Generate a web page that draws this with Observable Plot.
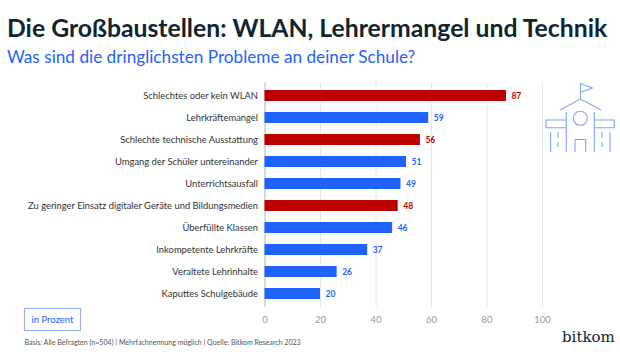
<!DOCTYPE html>
<html lang="de">
<head>
<meta charset="utf-8">
<script src="https://cdn.jsdelivr.net/npm/d3@7"></script>
<script src="https://cdn.jsdelivr.net/npm/@observablehq/plot@0.6"></script>
<style>
html,body{margin:0;padding:0;background:#fff;width:620px;height:354px;overflow:hidden}
#wrap{position:relative;width:620px;height:354px;font-family:Lato,sans-serif}
#wrap>div{position:absolute;white-space:nowrap}
#title{left:7px;top:12px;font-size:24.75px;font-weight:700;color:#10252e;line-height:32px}
#sub{left:7px;top:45px;font-size:17.2px;color:#1f62ff;line-height:24px}
#unit{left:24px;top:308px;width:55px;height:21px;border:1px solid #8fb0ff;line-height:21px;text-align:center;font-size:9.5px;color:#1f62ff;box-sizing:content-box}
#src{left:24.5px;top:336.5px;font-size:7.05px;color:#555;line-height:12px}
#logo{left:562px;top:327px;font-family:"DejaVu Serif",serif;font-size:15px;color:#10252e;line-height:20px}
#icon{position:absolute;left:0;top:0}
#chart{position:absolute;left:0;top:0}
</style>
</head>
<body>
<div id="wrap">
<div id="chart"></div>
<div id="title">Die Großbaustellen: WLAN, Lehrermangel und Technik</div>
<div id="sub">Was sind die dringlichsten Probleme an deiner Schule?</div>
<div id="unit">in Prozent</div>
<div id="src">Basis: Alle Befragten (n=504) | Mehrfachnennung möglich | Quelle: Bitkom Research 2023</div>
<div id="logo">bitkom</div>
<svg id="icon" width="620" height="354" fill="none" stroke="#7fa3ff" stroke-width="1.1">
<path d="M560 110L580.5 99L601 110M580.5 99V83.5L592.5 88L580.5 92.5"/>
<circle cx="580.3" cy="118.3" r="7"/>
<path d="M566.3 112V152M594.3 112V152M566.3 120H546V127.7H566.3M594.3 120H614.3V127.7H594.3M550.7 132V152M610 132V152M558 132V138M558 142V147M602 132V138M602 142V147M575 152V139.5H585.7V152"/>
</svg>
</div>
<script>
const categories = ["Schlechtes oder kein WLAN","Lehrkräftemangel","Schlechte technische Ausstattung","Umgang der Schüler untereinander","Unterrichtsausfall","Zu geringer Einsatz digitaler Geräte und Bildungsmedien","Überfüllte Klassen","Inkompetente Lehrkräfte","Veraltete Lehrinhalte","Kaputtes Schulgebäude"];
const values = [87,59,56,51,49,48,46,37,26,20];
const highlighted = ["Schlechtes oder kein WLAN","Schlechte technische Ausstattung","Zu geringer Einsatz digitaler Geräte und Bildungsmedien"];
const xTicks = [0,20,40,60,80,100];
const rows = categories.map((c,i)=>({category:c,value:values[i],hi:highlighted.includes(c)}));
const RED="#bb0000", BLUE="#1f62ff";
const color = d => d.hi ? RED : BLUE;
const plot = Plot.plot({
  width:620,height:354,
  marginLeft:264.5,marginRight:78,marginTop:82.3,marginBottom:47.3,
  style:{fontFamily:'Lato,sans-serif',background:"transparent"},
  x:{domain:[0,100],label:null,ticks:xTicks},
  y:{domain:categories,label:null,paddingInner:0.49,paddingOuter:0.245},
  marks:[
    Plot.ruleX(xTicks.slice(1),{stroke:"#e6e6e6",strokeWidth:1,strokeOpacity:1}),
    Plot.ruleX([0],{stroke:"#b5b5b5",strokeWidth:1,strokeOpacity:1}),
    Plot.barX(rows,{x:"value",y:"category",fill:color}),
    Plot.text(rows,{x:"value",y:"category",text:d=>String(d.value),fill:color,dx:5,textAnchor:"start",fontSize:8.5,fontWeight:700}),
    Plot.axisX({ticks:xTicks,tickSize:0,tickPadding:9,fontSize:9.5,color:"#999",label:null}),
    Plot.axisY({tickSize:0,tickPadding:7,fontSize:9.4,color:"#333",label:null,lineWidth:100})
  ]
});
document.getElementById("chart").appendChild(plot);
</script>
</body>
</html>
